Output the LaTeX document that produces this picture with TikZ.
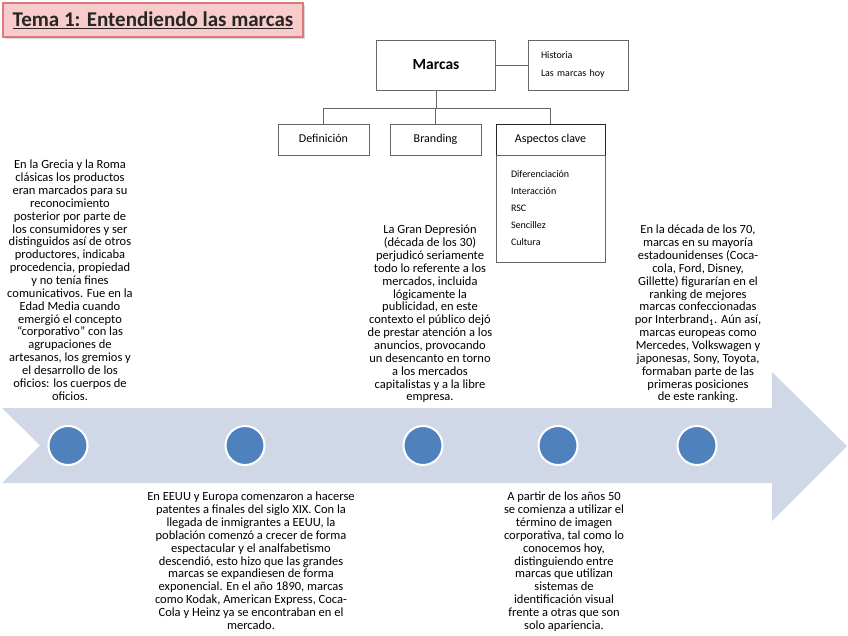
\documentclass[tikz,border=0pt]{standalone}
\usepackage{fontspec}
\setmainfont{Carlito}
\usetikzlibrary{shadows}

\definecolor{flecha}{RGB}{208,216,232}
\definecolor{punto}{RGB}{79,129,189}
\definecolor{rosa}{RGB}{249,204,204}
\definecolor{rojizo}{RGB}{218,122,122}

\begin{document}
\begin{tikzpicture}[
    x=1pt, y=-1pt,
    every node/.style={inner sep=0pt},
    caja/.style={draw=black!60, line width=0.8pt, fill=white},
    rama/.style={caja, minimum height=31pt, text height=9pt, text depth=2.5pt, font=\fontsize{12}{14}\selectfont},
    hito/.style={circle, fill=punto, draw=white, line width=2pt, minimum size=39pt},
    texto/.style={align=center, anchor=north, font=\fontsize{12.5}{12.85}\selectfont}
]
\useasboundingbox (0,0) rectangle (848,636);

% ===== TITULO =====
\node[draw=rojizo, line width=1.4pt, fill=rosa, minimum width=300pt, minimum height=34pt,
      drop shadow={opacity=0.3, shadow xshift=2pt, shadow yshift=-2pt},
      font=\bfseries\fontsize{21}{24}\selectfont, text=black!85] (titulo) at (153,20)
      {\underline{Tema 1: Entendiendo las marcas}};

% ===== ESQUEMA SUPERIOR =====
\node[caja, minimum width=119pt, minimum height=50pt, font=\bfseries\fontsize{15.5}{18}\selectfont] (marcas) at (436,65) {Marcas};
\node[caja, minimum height=50pt, text width=74pt, inner xsep=13pt, align=left,
      font=\fontsize{10}{18}\selectfont] (historia) at (578,65) {Historia\\Las marcas hoy};

\node[rama, minimum width=91pt] (definicion) at (323.5,139.5) {Definición};
\node[rama, minimum width=91pt] (branding) at (435.5,139.5) {Branding};
\node[rama, draw=black!85, minimum width=109pt] (aspectos) at (550.5,139.5) {Aspectos clave};
\node[caja, minimum height=107pt, text width=79pt, inner xsep=15pt, align=left,
      font=\fontsize{10}{17}\selectfont] (lista) at (550.5,208.5)
      {Diferenciación\\Interacción\\RSC\\Sencillez\\Cultura};

% --- Conectores ---
\coordinate (nudo) at (436,108);
\draw[black!60, line width=0.8pt] (marcas) -- (historia);
\draw[black!60, line width=0.8pt] (marcas.south) -- (nudo);
\draw[black!60, line width=0.8pt] (nudo) -| (definicion.north);
\draw[black!60, line width=0.8pt] (nudo) -| (branding.north);
\draw[black!60, line width=0.8pt] (nudo) -| (aspectos.north);

% ===== FLECHA DE TIEMPO =====
\fill[flecha] (2,408) -- (772,408) -- (772,372) -- (847,446) -- (772,521)
    -- (772,483) -- (2,483) -- (40,445.5) -- cycle;

\foreach \x/\n in {68/griega, 245/eeuu, 423/depresion, 558/imagen, 697/ranking}
    \node[hito] (p-\n) at (\x,445.5) {};

% ===== TEXTOS SUPERIORES =====
\node[texto] (t-griega) at (70,160) {En la Grecia y la Roma\\clásicas los productos\\eran marcados para su\\reconocimiento\\posterior por parte de\\los consumidores y ser\\distinguidos así de otros\\productores, indicaba\\procedencia, propiedad\\y no tenía fines\\comunicativos. Fue en la\\Edad Media cuando\\emergió el concepto\\“corporativo” con las\\agrupaciones de\\artesanos, los gremios y\\el desarrollo de los\\oficios: los cuerpos de\\oficios.};

\node[texto] (t-depresion) at (430,225) {La Gran Depresión\\(década de los 30)\\perjudicó seriamente\\todo lo referente a los\\mercados, incluida\\lógicamente la\\publicidad, en este\\contexto el público dejó\\de prestar atención a los\\anuncios, provocando\\un desencanto en torno\\a los mercados\\capitalistas y a la libre\\empresa.};

\node[texto] (t-ranking) at (698,225) {En la década de los 70,\\marcas en su mayoría\\estadounidenses (Coca-\\cola, Ford, Disney,\\Gillette) figurarían en el\\ranking de mejores\\marcas confeccionadas\\por Interbrand\textsubscript{1}. Aún así,\\marcas europeas como\\Mercedes, Volkswagen y\\japonesas, Sony, Toyota,\\formaban parte de las\\primeras posiciones\\de este ranking.};

% ===== TEXTOS INFERIORES =====
\node[texto] (t-eeuu) at (251,492) {En EEUU y Europa comenzaron a hacerse\\patentes a finales del siglo XIX. Con la\\llegada de inmigrantes a EEUU, la\\población comenzó a crecer de forma\\espectacular y el analfabetismo\\descendió, esto hizo que las grandes\\marcas se expandiesen de forma\\exponencial. En el año 1890, marcas\\como Kodak, American Express, Coca-\\Cola y Heinz ya se encontraban en el\\mercado.};

\node[texto] (t-imagen) at (564,492) {A partir de los años 50\\se comienza a utilizar el\\término de imagen\\corporativa, tal como lo\\conocemos hoy,\\distinguiendo entre\\marcas que utilizan\\sistemas de\\identificación visual\\frente a otras que son\\solo apariencia.};

\end{tikzpicture}
\end{document}
